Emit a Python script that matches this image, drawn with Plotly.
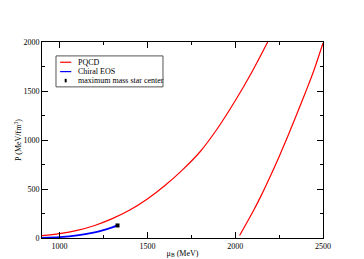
import plotly.graph_objects as go

# PQCD branch 1
pq1_mu = [900, 1000, 1100, 1200, 1300, 1400, 1500, 1600, 1700, 1800, 1900, 2000, 2100, 2185]
pq1_p = [25, 45, 78, 128, 198, 285, 398, 535, 695, 880, 1120, 1400, 1710, 2000]
# PQCD branch 2
pq2_mu = [2025, 2050, 2100, 2150, 2200, 2250, 2300, 2350, 2400, 2450, 2500]
pq2_p = [25, 105, 265, 440, 630, 830, 1040, 1260, 1485, 1720, 1990]
# Chiral EOS
ch_mu = [900, 1000, 1100, 1200, 1250, 1300, 1330]
ch_p = [2, 9, 26, 58, 80, 108, 128]
# maximum mass star center
star_mu = [1330]
star_p = [128]

legend_labels = ["PQCD", "Chiral EOS", "maximum mass star center"]
legend_colors = ["#ff0000", "#0000ff", "black"]

SERIF = "Liberation Serif"

fig = go.Figure()
fig.add_trace(go.Scatter(x=pq1_mu, y=pq1_p, mode="lines", name="PQCD",
                         line=dict(color="#ff0000", width=1.2, shape="spline")))
fig.add_trace(go.Scatter(x=pq2_mu, y=pq2_p, mode="lines", name="PQCD",
                         line=dict(color="#ff0000", width=1.2, shape="spline")))
fig.add_trace(go.Scatter(x=ch_mu, y=ch_p, mode="lines", name="Chiral EOS",
                         line=dict(color="#0000ff", width=1.8, shape="spline")))
fig.add_trace(go.Scatter(x=star_mu, y=star_p, mode="markers", name="maximum mass star center",
                         marker=dict(color="black", size=4, symbol="square")))

axis_common = dict(
    showgrid=False, zeroline=False, showline=True, linecolor="black", linewidth=1,
    mirror="allticks", ticks="inside", ticklen=6, tickcolor="black", tickwidth=1,
    tickfont=dict(family=SERIF, size=8, color="black"), automargin=False,
)
fig.update_xaxes(range=[900, 2500], dtick=500, tick0=1000,
                 minor=dict(dtick=250, ticks="inside", ticklen=3, tickcolor="black"),
                 title=dict(text="μ<sub>B</sub> (MeV)", font=dict(family=SERIF, size=8, color="black"), standoff=0),
                 **axis_common)
fig.update_yaxes(range=[0, 2000], dtick=500,
                 minor=dict(dtick=250, ticks="inside", ticklen=3, tickcolor="black"),
                 title=dict(text="P (MeV/fm<sup>3</sup>)", font=dict(family=SERIF, size=8, color="black"), standoff=0),
                 **axis_common)

# hand-drawn compact legend (paper coordinates)
shapes = [dict(type="rect", xref="paper", yref="paper", x0=0.0498, x1=0.4306, y0=0.771, y1=0.929,
               line=dict(color="#555555", width=1), fillcolor="white", layer="above")]
row_y = [0.8967, 0.8489, 0.8031]
annotations = []
for i, (lab, col) in enumerate(zip(legend_labels, legend_colors)):
    if i < 2:
        shapes.append(dict(type="line", xref="paper", yref="paper", x0=0.0645, x1=0.1041,
                           y0=row_y[i], y1=row_y[i], line=dict(color=col, width=1.2), layer="above"))
    else:
        shapes.append(dict(type="rect", xref="paper", yref="paper", x0=0.0808, x1=0.0878,
                           y0=row_y[i] - 0.009, y1=row_y[i] + 0.009,
                           line=dict(color=col, width=0), fillcolor=col, layer="above"))
    annotations.append(dict(xref="paper", yref="paper", x=0.121, y=row_y[i], xanchor="left", yanchor="middle",
                            text=lab, showarrow=False, font=dict(family=SERIF, size=8, color="black")))

# page body has an 8px default margin, so the figure is sized to fit the 364x259 window
fig.update_layout(
    width=356, height=251,
    margin=dict(l=34, r=41, t=34, b=20.5),
    paper_bgcolor="white", plot_bgcolor="white",
    showlegend=False,
    shapes=shapes, annotations=annotations,
)
fig.write_html("out.html")
